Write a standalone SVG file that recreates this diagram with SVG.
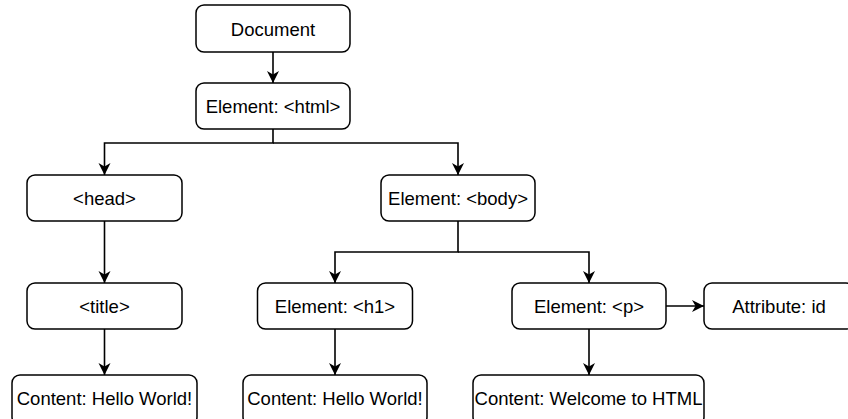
<svg xmlns="http://www.w3.org/2000/svg" width="848" height="419" viewBox="0 0 848 419">
<style>
.box{fill:#fff;stroke:#000;stroke-width:1.5}
.lbl{font-family:"Liberation Sans",Arial,sans-serif;font-size:18.5px;fill:#000;text-anchor:middle}
.edge{fill:none;stroke:#000;stroke-width:1.6}
</style>
<defs>
<marker id="arr" markerUnits="userSpaceOnUse" markerWidth="13" markerHeight="13" refX="12" refY="6" orient="auto">
<path d="M0,0 L12,6 L0,12 L3.5,6 z" fill="#000"/>
</marker>
</defs>
<rect width="848" height="419" fill="#fff"/>
<g id="connectors">
<path class="edge" d="M273,52 V83" marker-end="url(#arr)"/>
<path class="edge" d="M273,129 V143 H104.5 V175" marker-end="url(#arr)"/>
<path class="edge" d="M273,143 H458 V175" marker-end="url(#arr)"/>
<path class="edge" d="M104.5,221 V283" marker-end="url(#arr)"/>
<path class="edge" d="M104.5,329 V375" marker-end="url(#arr)"/>
<path class="edge" d="M458,221 V252 H335 V283" marker-end="url(#arr)"/>
<path class="edge" d="M458,252 H589 V283" marker-end="url(#arr)"/>
<path class="edge" d="M335,329 V375" marker-end="url(#arr)"/>
<path class="edge" d="M589,329 V375" marker-end="url(#arr)"/>
<path class="edge" d="M666,306 H704" marker-end="url(#arr)"/>
</g>
<g id="document"><rect class="box" x="196" y="5" width="154" height="47" rx="8"/><text class="lbl" x="273" y="36">Document</text></g>
<g id="html"><rect class="box" x="196" y="83" width="154" height="46" rx="8"/><text class="lbl" x="273" y="113">Element: &lt;html&gt;</text></g>
<g id="head"><rect class="box" x="27" y="175" width="155" height="46" rx="8"/><text class="lbl" x="104.5" y="205">&lt;head&gt;</text></g>
<g id="body"><rect class="box" x="381" y="175" width="154" height="46" rx="8"/><text class="lbl" x="458" y="205">Element: &lt;body&gt;</text></g>
<g id="title"><rect class="box" x="27" y="283" width="155" height="46" rx="8"/><text class="lbl" x="104.5" y="313">&lt;title&gt;</text></g>
<g id="h1"><rect class="box" x="257.5" y="283" width="155" height="46" rx="8"/><text class="lbl" x="335" y="313">Element: &lt;h1&gt;</text></g>
<g id="p"><rect class="box" x="512" y="283" width="154" height="46" rx="8"/><text class="lbl" x="589" y="313">Element: &lt;p&gt;</text></g>
<g id="attribute"><rect class="box" x="704" y="283" width="150" height="46" rx="8"/><text class="lbl" x="779" y="313">Attribute: id</text></g>
<g id="content1"><rect class="box" x="12" y="375" width="185" height="50" rx="8"/><text class="lbl" x="104.5" y="405">Content: Hello World!</text></g>
<g id="content2"><rect class="box" x="243" y="375" width="184" height="50" rx="8"/><text class="lbl" x="335" y="405">Content: Hello World!</text></g>
<g id="content3"><rect class="box" x="473" y="375" width="231" height="50" rx="8"/><text class="lbl" x="588.5" y="405">Content: Welcome to HTML</text></g>
</svg>
